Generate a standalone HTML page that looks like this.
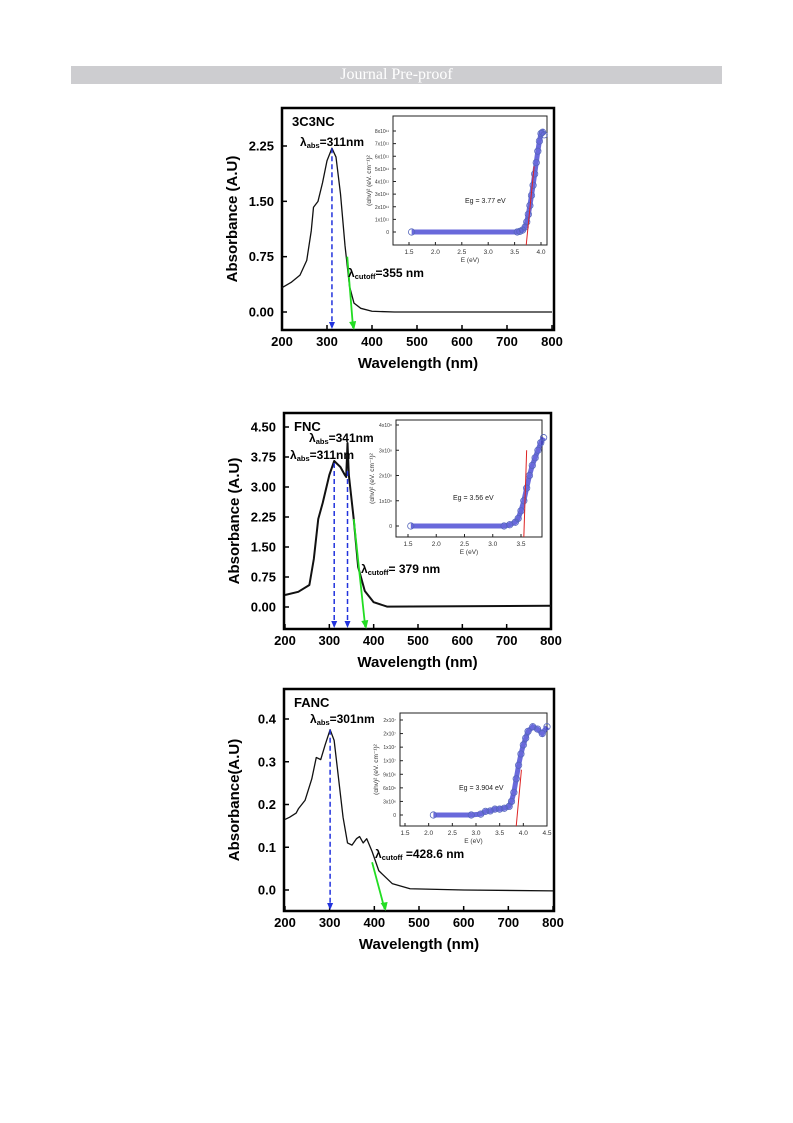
<!DOCTYPE html>
<html><head><meta charset="utf-8">
<style>
html,body{margin:0;padding:0;background:#fff;}
body{width:793px;height:1123px;position:relative;overflow:hidden;font-family:"Liberation Sans",sans-serif;}
#hdr{position:absolute;left:71px;top:66px;width:651px;height:18px;background:#cdcdd0;color:#fff;font-family:"Liberation Serif",serif;font-size:16px;line-height:18px;text-align:center;}
svg{position:absolute;left:0;top:0;}
</style></head><body>
<div id="hdr">Journal Pre-proof</div>
<svg id="fig" width="793" height="1123"></svg>
<script>
// ---- data ----
const wl1=[200,220,240,255,265,270,280,290,300,311,320,330,340,350,360,375,400,450,800];
const ab1=[0.33,0.40,0.50,0.70,1.10,1.42,1.50,1.75,2.05,2.22,2.10,1.60,0.90,0.35,0.12,0.05,0.01,0,0];
const wl2=[200,230,255,265,275,285,300,311,325,335,338,341,344,355,365,380,400,430,800];
const ab2=[0.30,0.38,0.55,1.20,2.20,2.60,3.30,3.65,3.50,3.30,3.25,4.10,3.30,2.20,1.00,0.40,0.12,0.01,0.03];
const wl3=[200,210,225,230,245,260,270,280,290,301,310,320,330,340,350,360,367,375,383,395,410,440,480,600,800];
const ab3=[0.165,0.17,0.18,0.19,0.21,0.26,0.31,0.305,0.34,0.375,0.35,0.26,0.17,0.11,0.105,0.12,0.125,0.11,0.12,0.09,0.045,0.015,0.003,0,-0.002];
const yt1=[0,0.75,1.5,2.25], yt2=[0,0.75,1.5,2.25,3,3.75,4.5], yt3=[0,0.1,0.2,0.3,0.4];
const xt=[200,300,400,500,600,700,800];
const e1=[1.55,3.55,3.6,3.65,3.7,3.73,3.76,3.79,3.82,3.85,3.88,3.91,3.94,3.97,4.0,4.03,4.06];
const t1=[0,0,0.05,0.15,0.4,0.8,1.4,2.1,2.9,3.7,4.6,5.5,6.4,7.2,7.8,7.9,7.7];
const e2=[1.55,3.2,3.3,3.4,3.45,3.5,3.55,3.6,3.65,3.7,3.75,3.8,3.85,3.9];
const t2=[0,0,0.05,0.15,0.3,0.6,1.0,1.5,2.0,2.4,2.7,3.0,3.3,3.5];
const e3=[2.1,2.9,3.1,3.2,3.3,3.4,3.5,3.6,3.7,3.75,3.8,3.85,3.9,3.95,4.0,4.05,4.1,4.2,4.3,4.4,4.5];
const t3=[0,0,0.2,0.8,0.9,1.3,1.3,1.5,1.9,3.0,5.0,8.0,11,13.5,15.5,17,18.5,19.5,19,18,19.5];
// ---- drawing ----
const svg=document.getElementById('fig');const NS='http://www.w3.org/2000/svg';
function el(t,a,p){const e=document.createElementNS(NS,t);for(const k in a)e.setAttribute(k,a[k]);(p||svg).appendChild(e);return e;}
function txt(s,x,y,a,p){const e=el('text',Object.assign({x:x,y:y},a),p);e.textContent=s;return e;}
function panel(o){
 const g=el('g',{});
 
 
 const X=v=>o.x0+(v-200)*(o.x1-o.x0)/600, Y=v=>o.y0+(v-o.ymin)*(o.yv-o.y0)/(o.ymax-o.ymin);
 const fr=el('rect',{x:o.L,y:o.T,width:o.R-o.L,height:o.B-o.T,fill:'none',stroke:'#000','stroke-width':2.5},g);
 
 
 xt.forEach(v=>{el('line',{x1:X(v),x2:X(v),y1:o.B,y2:o.B-5,stroke:'#000','stroke-width':1.5},g);
  const t=txt(v,X(v),o.B+16,{'font-size':13,'font-weight':'bold','text-anchor':'middle'},g);
  
  });
 o.yt.forEach(v=>{el('line',{x1:o.L,x2:o.L+5,y1:Y(v),y2:Y(v),stroke:'#000','stroke-width':1.5},g);
  const t=txt(v.toFixed(o.dec),o.L-8,Y(v)+4.5,{'font-size':13,'font-weight':'bold','text-anchor':'end'},g);
  
  });
 const xl=txt('Wavelength (nm)',(o.L+o.R)/2,o.B+38,{'font-size':15,'font-weight':'bold','text-anchor':'middle'},g);
 
 
 const yl=txt(o.ylab,0,0,{'font-size':15,'font-weight':'bold','text-anchor':'middle',transform:`translate(${o.L-45},${(o.T+o.B)/2}) rotate(-90)`},g);
 
 
 const tt=txt(o.name,o.L+10,o.T+18,{'font-size':13,'font-weight':'bold'},g);
 
 
 const pl=el('polyline',{points:o.wl.map((w,i)=>X(w)+','+Y(o.ab[i])).join(' '),fill:'none',stroke:'#111','stroke-width':o.lw,'stroke-linejoin':'round'},g);
 
 
 o.peaks.forEach(p=>{const ln=el('line',{x1:X(p[0]),x2:X(p[0]),y1:Y(p[1]),y2:o.B-3,stroke:'#2233dd','stroke-width':1.5,'stroke-dasharray':'5,3'},g);
  
  
  el('polygon',{points:`${X(p[0])-3},${o.B-8} ${X(p[0])+3},${o.B-8} ${X(p[0])},${o.B-1}`,fill:'#2233dd'},g);});
 const c=o.cut;const gl=el('line',{x1:X(c[0]),y1:Y(c[1]),x2:X(c[2]),y2:o.B-2,stroke:'#22dd22','stroke-width':1.8},g);
 
 
 el('polygon',{points:`${X(c[2])-4},${o.B-8} ${X(c[2])+3},${o.B-9} ${X(c[2])+1},${o.B}`,fill:'#22dd22'},g);
 o.labels.forEach(l=>{const t=el('text',{x:l[1],y:l[2],'font-size':12,'font-weight':'bold'},g);
  
  
  const a=el('tspan',{},t);a.textContent='λ';const b=el('tspan',{'font-size':7.5,dy:2},t);b.textContent=l[0];const d=el('tspan',{dy:-2},t);d.textContent=l[3];});
 // inset
 const I=o.ins;const g2=el('g',{},g);
 
 
 const EX=v=>I.x0+(v-1.5)*(I.x1-I.x0)/(I.xe-1.5), EY=v=>I.y0+v*(I.yv-I.y0)/I.ye;
 el('rect',{x:I.L,y:I.T,width:I.R-I.L,height:I.B-I.T,fill:'#fff',stroke:'#222','stroke-width':1},g2);
 I.xt.forEach(v=>{el('line',{x1:EX(v),x2:EX(v),y1:I.B,y2:I.B-3,stroke:'#222'},g2);
  const t=txt(v.toFixed(1),EX(v),I.B+9,{'font-size':6.5,'text-anchor':'middle',fill:'#333'},g2);
  
  });
 I.yt.forEach((v,i)=>{el('line',{x1:I.L,x2:I.L+3,y1:EY(v),y2:EY(v),stroke:'#222'},g2);
  const t=txt(I.ytl[i],I.L-4,EY(v)+2,{'font-size':5,'text-anchor':'end',fill:'#333'},g2);
  
  });
 txt('E (eV)',(I.L+I.R)/2,I.B+17,{'font-size':6.5,'text-anchor':'middle',fill:'#333'},g2);
 txt('(αhν)² (eV. cm⁻¹)²',0,0,{'font-size':6.5,'text-anchor':'middle',fill:'#333',transform:`translate(${I.L-22},${(I.T+I.B)/2}) rotate(-90)`},g2);
 el('polyline',{points:I.e.map((v,i)=>EX(v)+','+EY(I.t[i])).join(' '),fill:'none',stroke:'#2a2acc','stroke-width':5,opacity:0.7},g2);
 I.e.forEach((v,i)=>{const m=el('circle',{cx:EX(v),cy:EY(I.t[i]),r:3.2,fill:'none',stroke:'#5566bb','stroke-width':0.8},g2);
  
  });
 el('line',{x1:EX(I.eg),y1:I.B,x2:EX(I.rx),y2:EY(I.ry),stroke:'#d22','stroke-width':1},g2);
 const eg=txt('Eg = '+I.egl+' eV',I.lx,I.ly,{'font-size':7,fill:'#222'},g2);
 
 
}
panel({name:'3C3NC',L:282,T:108,R:554,B:330,x0:282,x1:552,ymin:0,y0:312,ymax:2.25,yv:146,yt:yt1,dec:2,ylab:'Absorbance (A.U)',lw:1.3,wl:wl1,ab:ab1,
 peaks:[[311,2.22]],cut:[345,0.75,358],labels:[['abs',300,146,'=311nm'],['cutoff',348,277,'=355 nm']],
 ins:{L:393,T:116,R:547,B:245,x0:409,x1:541,xe:4.0,y0:232,yv:131,ye:8,xt:[1.5,2,2.5,3,3.5,4],yt:[0,1,2,3,4,5,6,7,8],ytl:['0','1x10¹¹','2x10¹¹','3x10¹¹','4x10¹¹','5x10¹¹','6x10¹¹','7x10¹¹','8x10¹¹'],e:e1,t:t1,eg:3.72,rx:3.87,ry:5.2,egl:'3.77',lx:465,ly:203}});
panel({name:'FNC',L:284,T:413,R:551,B:629,x0:285,x1:551,ymin:0,y0:607,ymax:4.5,yv:427,yt:yt2,dec:2,ylab:'Absorbance (A.U)',lw:2,wl:wl2,ab:ab2,
 peaks:[[311,3.6],[341,3.4]],cut:[355,2.2,381],labels:[['abs',290,459,'=311nm'],['abs',309,442,'=341nm'],['cutoff',361,573,'= 379 nm']],
 ins:{L:396,T:420,R:542,B:537,x0:408,x1:521,xe:3.5,y0:526,yv:425,ye:4,xt:[1.5,2,2.5,3,3.5],yt:[0,1,2,3,4],ytl:['0','1x10⁸','2x10⁸','3x10⁸','4x10⁸'],e:e2,t:t2,eg:3.55,rx:3.6,ry:3.0,egl:'3.56',lx:453,ly:500}});
panel({name:'FANC',L:284,T:689,R:554,B:911,x0:285,x1:553,ymin:0,y0:890,ymax:0.4,yv:719,yt:yt3,dec:1,ylab:'Absorbance(A.U)',lw:1.3,wl:wl3,ab:ab3,
 peaks:[[301,0.375]],cut:[395,0.065,423],labels:[['abs',310,723,'=301nm'],['cutoff',375,858,' =428.6 nm']],
 ins:{L:400,T:713,R:547,B:826,x0:405,x1:547,xe:4.5,y0:815,yv:720,ye:21,xt:[1.5,2,2.5,3,3.5,4,4.5],yt:[0,3,6,9,12,15,18,21],ytl:['0','3x10⁶','6x10⁶','9x10⁶','1x10⁷','1x10⁷','2x10⁷','2x10⁷'],e:e3,t:t3,eg:3.85,rx:3.96,ry:10,egl:'3.904',lx:459,ly:790}});
</script>
</body></html>
